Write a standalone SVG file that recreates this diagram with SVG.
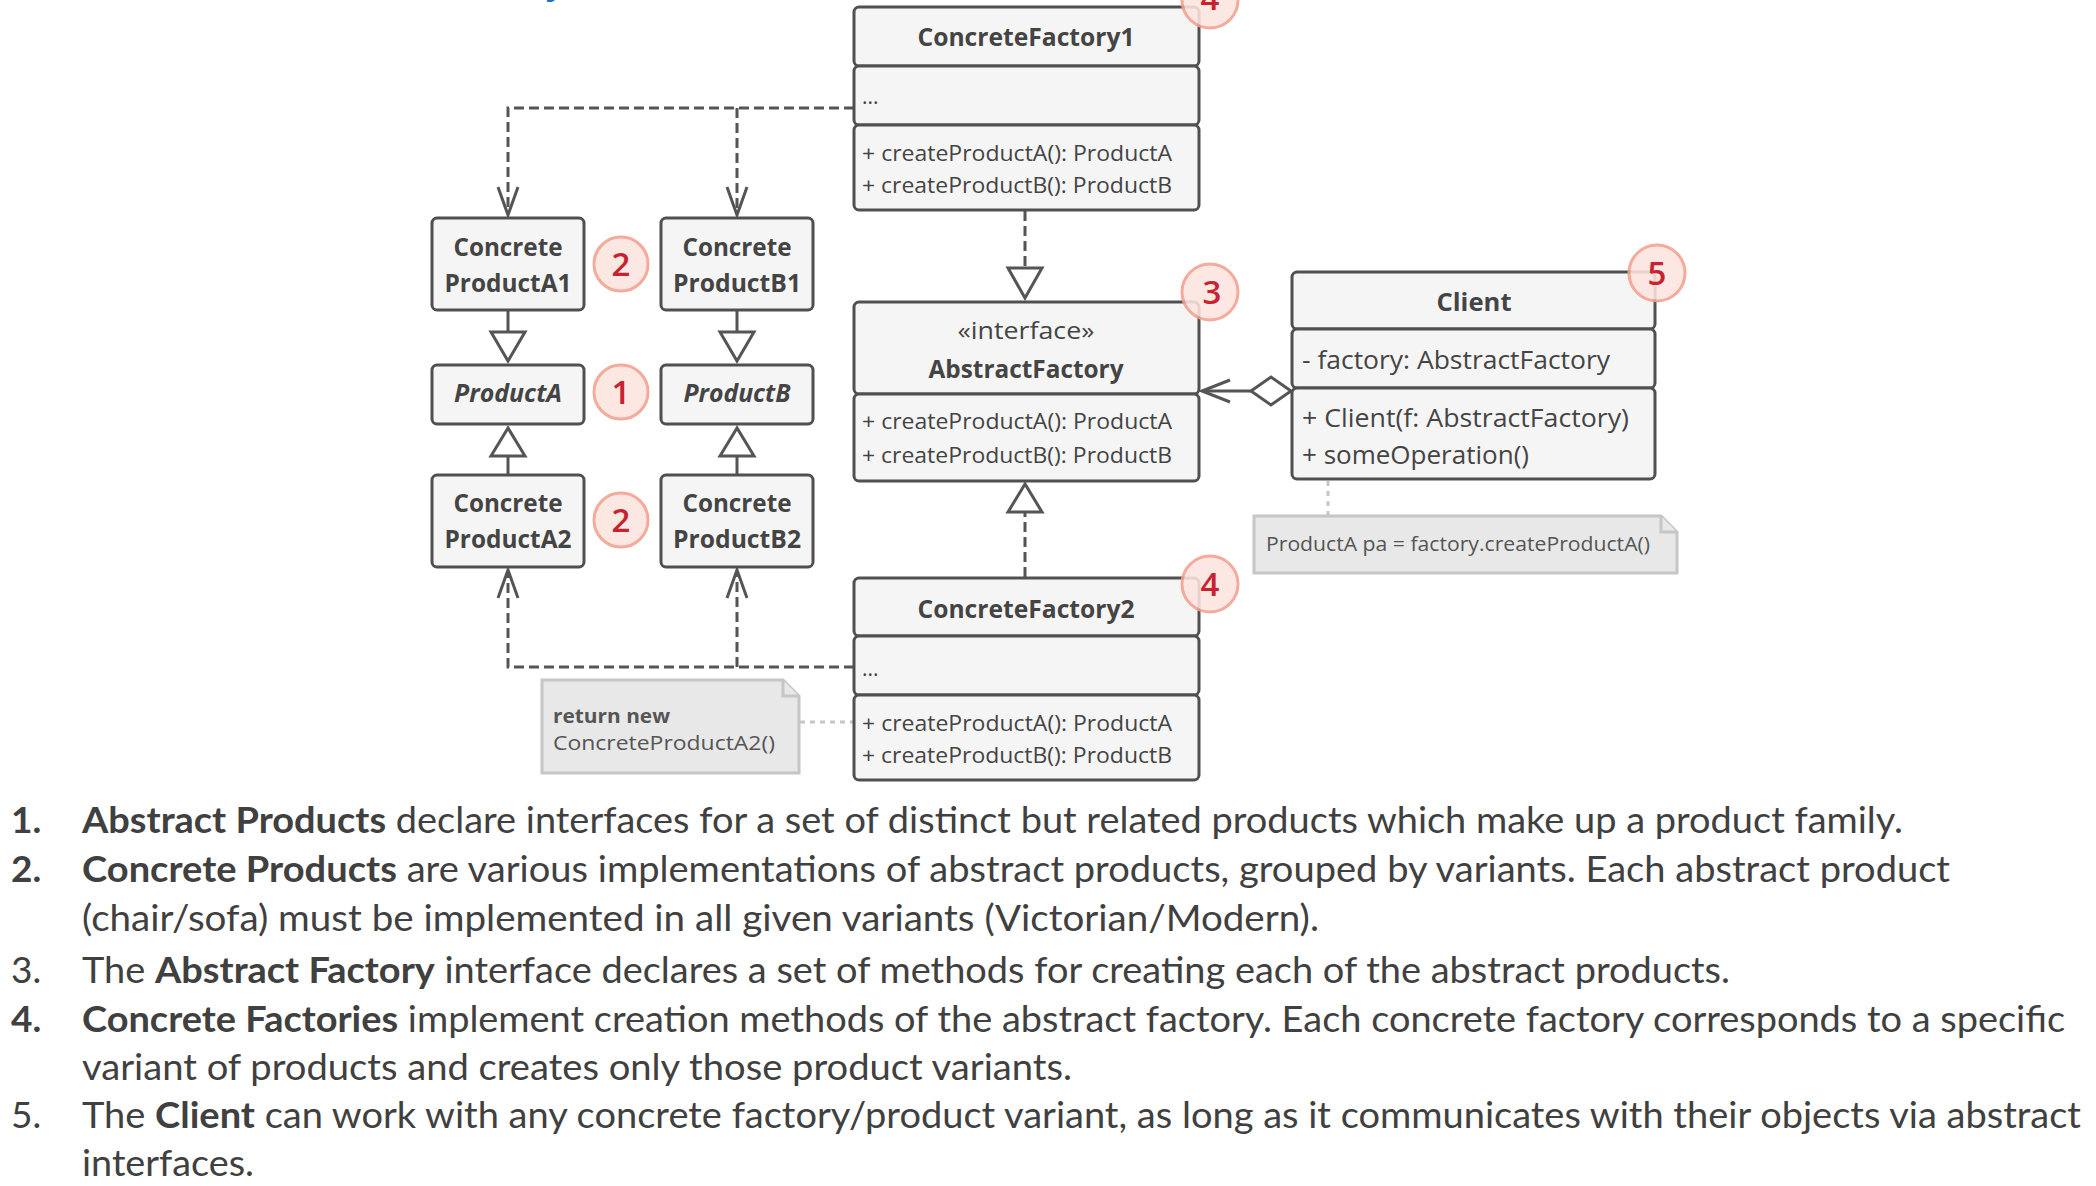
<svg xmlns="http://www.w3.org/2000/svg" width="2096" height="1186" viewBox="0 0 2096 1186">
<style>
.bg{fill:#fff}
.box{fill:#f5f5f5;stroke:#505050;stroke-width:3}
.t{font-family:"Open Sans","Noto Sans",sans-serif;fill:#444}
.ti{font-size:25px;font-weight:bold;text-anchor:middle}
.m{font-size:21px}
.ca{font-size:25px}
.ln{stroke:#555;stroke-width:3;fill:none}
.dash{stroke-dasharray:10 5}
.tri{fill:#fff;stroke:#555;stroke-width:3;stroke-linejoin:miter}
.note{fill:#e8e8e8;stroke:#c6c6c6;stroke-width:3}
.nd{stroke:#c6c6c6;stroke-width:3;stroke-dasharray:5 5;fill:none}
.nt{font-family:"Open Sans","Noto Sans",sans-serif;fill:#555;font-size:20px}
.bc{fill:#fde4df;stroke:#f4a08e;stroke-width:3;opacity:0.88}
.bn{font-family:"Open Sans","Noto Sans",sans-serif;fill:#c8212f;font-size:33px;font-weight:600;text-anchor:middle}
.p{font-family:Lato,"Noto Sans",sans-serif;fill:#404040;font-size:37px}
.b{font-weight:bold}
</style>
<rect class="bg" x="0" y="0" width="2096" height="1186"/>
<text x="545" y="-6" font-family="Liberation Sans" font-weight="bold" font-size="36" fill="#1a6fce">y</text>

<g id="connectors">
  <path class="ln dash" d="M854,108 H508 V214"/>
  <polyline class="ln" points="498,187 508,215 518,187"/>
  <path class="ln dash" d="M737,108 V214"/>
  <polyline class="ln" points="727,187 737,215 747,187"/>
  <path class="ln dash" d="M854,667 H508 V571"/>
  <polyline class="ln" points="498,598 508,570 518,598"/>
  <path class="ln dash" d="M737,667 V571"/>
  <polyline class="ln" points="727,598 737,570 747,598"/>
  <line class="ln" x1="508" y1="310" x2="508" y2="332"/>
  <polygon class="tri" points="491,332 525,332 508,361"/>
  <line class="ln" x1="737" y1="310" x2="737" y2="332"/>
  <polygon class="tri" points="720,332 754,332 737,361"/>
  <line class="ln" x1="508" y1="456" x2="508" y2="475"/>
  <polygon class="tri" points="508,428 491,456 525,456"/>
  <line class="ln" x1="737" y1="456" x2="737" y2="475"/>
  <polygon class="tri" points="737,428 720,456 754,456"/>
  <path class="ln dash" d="M1025,211 V268"/>
  <polygon class="tri" points="1008,268 1042,268 1025,298"/>
  <path class="ln dash" d="M1025,577 V512"/>
  <polygon class="tri" points="1025,484 1008,512 1042,512"/>
  <line class="ln" x1="1252" y1="391" x2="1202" y2="391"/>
  <polyline class="ln" points="1230,380 1202,391 1230,402"/>
  <polygon class="tri" points="1291,391 1271,377 1251,391 1271,405"/>
  <path class="nd" d="M1328,481 V515"/>
  <path class="nd" d="M800,722 H853"/>
</g>

<g id="ConcreteFactory1">
  <rect class="box" x="854" y="7" width="345" height="59" rx="5"/>
  <rect class="box" x="854" y="66" width="345" height="59" rx="5"/>
  <rect class="box" x="854" y="125" width="345" height="85" rx="5"/>
  <text class="t ti" x="1026" y="46" textLength="217" lengthAdjust="spacingAndGlyphs">ConcreteFactory1</text>
  <text class="t m" x="862" y="104">...</text>
  <text class="t m" x="862" y="161" textLength="310" lengthAdjust="spacingAndGlyphs">+ createProductA(): ProductA</text>
  <text class="t m" x="862" y="193" textLength="310" lengthAdjust="spacingAndGlyphs">+ createProductB(): ProductB</text>
</g>

<g id="AbstractFactory">
  <rect class="box" x="854" y="302" width="345" height="92" rx="5"/>
  <rect class="box" x="854" y="394" width="345" height="87" rx="5"/>
  <text class="t" x="1026" y="339" font-size="23" text-anchor="middle" textLength="137" lengthAdjust="spacingAndGlyphs">«interface»</text>
  <text class="t ti" x="1026" y="378" textLength="195" lengthAdjust="spacingAndGlyphs">AbstractFactory</text>
  <text class="t m" x="862" y="429" textLength="310" lengthAdjust="spacingAndGlyphs">+ createProductA(): ProductA</text>
  <text class="t m" x="862" y="463" textLength="310" lengthAdjust="spacingAndGlyphs">+ createProductB(): ProductB</text>
</g>

<g id="ConcreteFactory2">
  <rect class="box" x="854" y="578" width="345" height="58" rx="5"/>
  <rect class="box" x="854" y="636" width="345" height="59" rx="5"/>
  <rect class="box" x="854" y="695" width="345" height="85" rx="5"/>
  <text class="t ti" x="1026" y="618" textLength="217" lengthAdjust="spacingAndGlyphs">ConcreteFactory2</text>
  <text class="t m" x="862" y="676">...</text>
  <text class="t m" x="862" y="731" textLength="310" lengthAdjust="spacingAndGlyphs">+ createProductA(): ProductA</text>
  <text class="t m" x="862" y="763" textLength="310" lengthAdjust="spacingAndGlyphs">+ createProductB(): ProductB</text>
</g>

<g id="Client">
  <rect class="box" x="1292" y="272" width="363" height="57" rx="5"/>
  <rect class="box" x="1292" y="329" width="363" height="59" rx="5"/>
  <rect class="box" x="1292" y="388" width="363" height="91" rx="5"/>
  <text class="t ti" x="1474" y="311" textLength="75" lengthAdjust="spacingAndGlyphs">Client</text>
  <text class="t ca" x="1302" y="369" textLength="308" lengthAdjust="spacingAndGlyphs">- factory: AbstractFactory</text>
  <text class="t ca" x="1302" y="427" textLength="327" lengthAdjust="spacingAndGlyphs">+ Client(f: AbstractFactory)</text>
  <text class="t ca" x="1302" y="464" textLength="227" lengthAdjust="spacingAndGlyphs">+ someOperation()</text>
</g>

<g id="ConcreteProductA1">
  <rect class="box" x="432" y="218" width="152" height="92" rx="5"/>
  <text class="t ti" x="508" y="256" textLength="109" lengthAdjust="spacingAndGlyphs">Concrete</text>
  <text class="t ti" x="508" y="292" textLength="127" lengthAdjust="spacingAndGlyphs">ProductA1</text>
</g>
<g id="ConcreteProductB1">
  <rect class="box" x="661" y="218" width="152" height="92" rx="5"/>
  <text class="t ti" x="737" y="256" textLength="109" lengthAdjust="spacingAndGlyphs">Concrete</text>
  <text class="t ti" x="737" y="292" textLength="128" lengthAdjust="spacingAndGlyphs">ProductB1</text>
</g>
<g id="ProductA">
  <rect class="box" x="432" y="365" width="152" height="59" rx="5"/>
  <text class="t ti" x="508" y="402" font-style="italic" textLength="108" lengthAdjust="spacingAndGlyphs">ProductA</text>
</g>
<g id="ProductB">
  <rect class="box" x="661" y="365" width="152" height="59" rx="5"/>
  <text class="t ti" x="737" y="402" font-style="italic" textLength="107" lengthAdjust="spacingAndGlyphs">ProductB</text>
</g>
<g id="ConcreteProductA2">
  <rect class="box" x="432" y="475" width="152" height="92" rx="5"/>
  <text class="t ti" x="508" y="512" textLength="109" lengthAdjust="spacingAndGlyphs">Concrete</text>
  <text class="t ti" x="508" y="548" textLength="127" lengthAdjust="spacingAndGlyphs">ProductA2</text>
</g>
<g id="ConcreteProductB2">
  <rect class="box" x="661" y="475" width="152" height="92" rx="5"/>
  <text class="t ti" x="737" y="512" textLength="109" lengthAdjust="spacingAndGlyphs">Concrete</text>
  <text class="t ti" x="737" y="548" textLength="128" lengthAdjust="spacingAndGlyphs">ProductB2</text>
</g>

<g id="note-client">
  <path class="note" d="M1254,516 H1661 L1677,532 V573 H1254 Z"/>
  <path class="note" d="M1661,516 V532 H1677" fill="none"/>
  <text class="nt" x="1266" y="551" textLength="384" lengthAdjust="spacingAndGlyphs">ProductA pa = factory.createProductA()</text>
</g>
<g id="note-cf2">
  <path class="note" d="M542,680 H783 L799,696 V773 H542 Z"/>
  <path class="note" d="M783,680 V696 H799" fill="none"/>
  <text class="nt b" x="553" y="723" textLength="117" lengthAdjust="spacingAndGlyphs">return new</text>
  <text class="nt" x="553" y="750" textLength="222" lengthAdjust="spacingAndGlyphs">ConcreteProductA2()</text>
</g>

<g id="badges">
  <circle class="bc" cx="621" cy="264" r="27"/><text class="bn" x="621" y="276">2</text>
  <circle class="bc" cx="621" cy="392" r="27"/><text class="bn" x="621" y="404">1</text>
  <circle class="bc" cx="621" cy="520" r="27"/><text class="bn" x="621" y="532">2</text>
  <circle class="bc" cx="1210" cy="0" r="28"/><text class="bn" x="1210" y="10">4</text>
  <circle class="bc" cx="1210" cy="292" r="28"/><text class="bn" x="1212" y="304">3</text>
  <circle class="bc" cx="1210" cy="584" r="28"/><text class="bn" x="1210" y="596">4</text>
  <circle class="bc" cx="1657" cy="273" r="28"/><text class="bn" x="1657" y="285">5</text>
</g>

<g id="legend">
  <text class="p b" x="11" y="833">1.</text>
  <text class="p" x="82" y="833" textLength="1821" lengthAdjust="spacingAndGlyphs"><tspan class="b">Abstract Products</tspan> declare interfaces for a set of distinct but related products which make up a product family.</text>
  <text class="p b" x="11" y="882">2.</text>
  <text class="p" x="82" y="882" textLength="1868" lengthAdjust="spacingAndGlyphs"><tspan class="b">Concrete Products</tspan> are various implementations of abstract products, grouped by variants. Each abstract product</text>
  <text class="p" x="82" y="931" textLength="1237" lengthAdjust="spacingAndGlyphs">(chair/sofa) must be implemented in all given variants (Victorian/Modern).</text>
  <text class="p" x="11" y="983">3.</text>
  <text class="p" x="82" y="983" textLength="1648" lengthAdjust="spacingAndGlyphs">The <tspan class="b">Abstract Factory</tspan> interface declares a set of methods for creating each of the abstract products.</text>
  <text class="p b" x="11" y="1032">4.</text>
  <text class="p" x="82" y="1032" textLength="1983" lengthAdjust="spacingAndGlyphs"><tspan class="b">Concrete Factories</tspan> implement creation methods of the abstract factory. Each concrete factory corresponds to a specific</text>
  <text class="p" x="82" y="1080" textLength="990" lengthAdjust="spacingAndGlyphs">variant of products and creates only those product variants.</text>
  <text class="p" x="11" y="1128">5.</text>
  <text class="p" x="82" y="1128" textLength="1999" lengthAdjust="spacingAndGlyphs">The <tspan class="b">Client</tspan> can work with any concrete factory/product variant, as long as it communicates with their objects via abstract</text>
  <text class="p" x="82" y="1176" textLength="172" lengthAdjust="spacingAndGlyphs">interfaces.</text>
</g>
</svg>
